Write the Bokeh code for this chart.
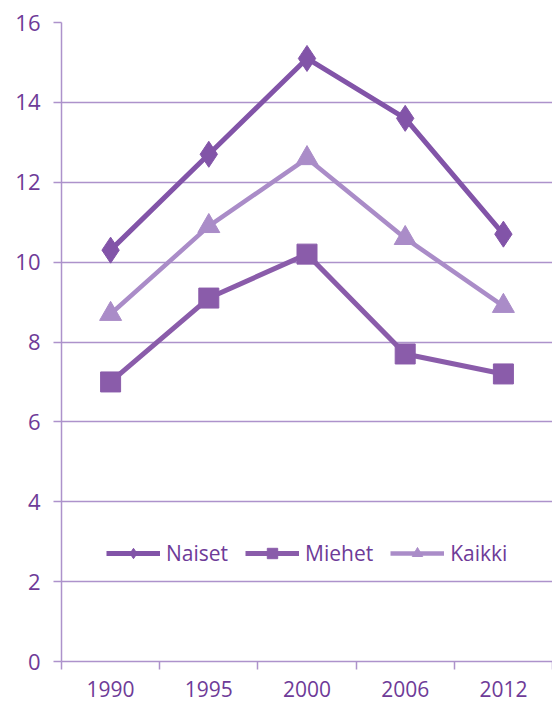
from bokeh.plotting import figure
from bokeh.models import Range1d, FixedTicker, Legend, LegendItem
from bokeh.embed import file_html
from bokeh.resources import INLINE

years = ["1990", "1995", "2000", "2006", "2012"]
naiset = [10.3, 12.7, 15.1, 13.6, 10.7]
miehet = [7.0, 9.1, 10.2, 7.7, 7.2]
kaikki = [8.7, 10.9, 12.6, 10.6, 8.9]
y_ticks = [0, 2, 4, 6, 8, 10, 12, 14, 16]

TEXT = "#6e3b98"
GRID = "#ad92cb"
C_NAISET = "#8254a8"
C_MIEHET = "#8a5caa"
C_KAIKKI = "#aa8cc8"
FONT = "Open Sans"

xs = [i + 0.5 for i in range(len(years))]

p = figure(width=552, height=704, output_backend="svg", toolbar_location=None,
           x_range=Range1d(0, len(years)), y_range=Range1d(0, 16),
           min_border_left=61, min_border_right=0, min_border_top=22, min_border_bottom=43)
p.outline_line_color = None
p.background_fill_color = "white"

# grid
p.xgrid.grid_line_color = None
p.ygrid.grid_line_color = GRID
p.ygrid.grid_line_width = 1.5
p.ygrid.ticker = FixedTicker(ticks=y_ticks)

# y axis
p.yaxis.ticker = FixedTicker(ticks=y_ticks)
p.yaxis.axis_line_color = GRID
p.yaxis.axis_line_width = 1.5
p.yaxis.major_tick_line_color = GRID
p.yaxis.major_tick_line_width = 1.5
p.yaxis.major_tick_out = 8
p.yaxis.major_tick_in = 0
p.yaxis.minor_tick_line_color = None
p.yaxis.major_label_standoff = 13
p.yaxis.major_label_text_font = FONT
p.yaxis.major_label_text_font_size = "22px"
p.yaxis.major_label_text_color = TEXT

# x axis: labels at centres, minor ticks at boundaries
p.xaxis.ticker = FixedTicker(ticks=xs, minor_ticks=list(range(len(years) + 1)))
p.xaxis.major_label_overrides = {x: y for x, y in zip(xs, years)}
p.xaxis.axis_line_color = GRID
p.xaxis.axis_line_width = 1.5
p.xaxis.major_tick_line_color = None
p.xaxis.major_tick_out = 0
p.xaxis.major_tick_in = 0
p.xaxis.minor_tick_line_color = GRID
p.xaxis.minor_tick_line_width = 1.5
p.xaxis.minor_tick_out = 8
p.xaxis.minor_tick_in = 0
p.xaxis.major_label_standoff = 11
p.xaxis.major_label_text_font = FONT
p.xaxis.major_label_text_font_size = "21px"
p.xaxis.major_label_text_color = TEXT

# series
r1 = p.line(xs, naiset, line_color=C_NAISET, line_width=5)
m1 = p.scatter(xs, naiset, marker="diamond", size=26, fill_color=C_NAISET, line_color=C_NAISET)
r2 = p.line(xs, miehet, line_color=C_MIEHET, line_width=5)
m2 = p.scatter(xs, miehet, marker="square", size=20, fill_color=C_MIEHET, line_color=C_MIEHET)
r3 = p.line(xs, kaikki, line_color=C_KAIKKI, line_width=4.5)
m3 = p.scatter(xs, kaikki, marker="triangle", size=22, fill_color=C_KAIKKI, line_color=C_KAIKKI)

legend = Legend(items=[LegendItem(label="Naiset", renderers=[r1, m1]),
                       LegendItem(label="Miehet", renderers=[r2, m2]),
                       LegendItem(label="Kaikki", renderers=[r3, m3])],
                orientation="horizontal", location=(45, 94),
                label_text_font=FONT, label_text_font_size="21px", label_text_color=TEXT,
                glyph_width=54, glyph_height=26, label_height=26, label_standoff=6,
                spacing=17, padding=0, margin=0,
                border_line_color=None, background_fill_alpha=0)
p.add_layout(legend, "center")

open("out.html", "w").write(file_html(p, INLINE))
